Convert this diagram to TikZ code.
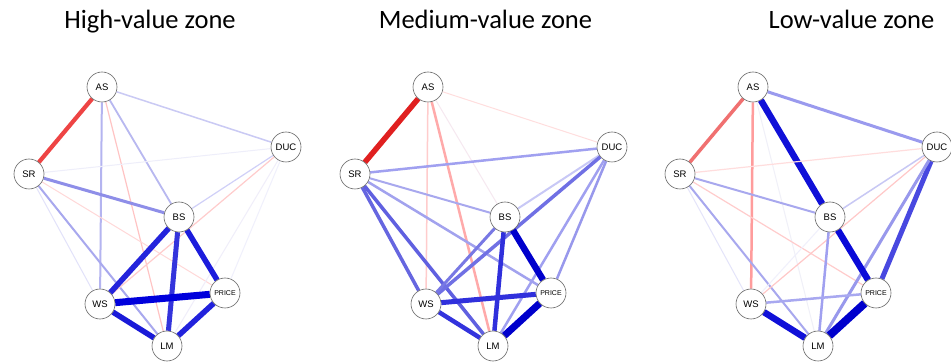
\documentclass[tikz,border=0pt]{standalone}
\usepackage{fontspec}
\setmainfont{Carlito}
\newfontfamily\nodefont{Liberation Sans}
\usetikzlibrary{backgrounds}
\tikzset{
  var/.style={circle, draw=black!60, line width=0.6pt, fill=white,
    minimum size=30pt, inner sep=0pt, font=\nodefont\fontsize{9.5}{10}\selectfont},
  smallvar/.style={var, font=\nodefont\fontsize{7}{8}\selectfont},
  title/.style={anchor=base, font=\fontsize{26.5}{30}\selectfont},
}
% one weighted connector: from, to, width (pt), colour (hex)
\newcommand\wlink[4]{\definecolor{linkcol}{HTML}{#4}\draw[line width=#3pt, draw=linkcol] (#1) -- (#2);}
\newcommand\zonenodes[2]{%
  % #1 suffix, #2 x offset
  \node[var]      (AS#1)    at (#2+0,87)    {AS};
  \node[var]      (DUC#1)   at (#2+184,147) {DUC};
  \node[var]      (SR#1)    at (#2-73,174)  {SR};
  \node[var]      (BS#1)    at (#2+77,217)  {BS};
  \node[smallvar] (PRICE#1) at (#2+123,293) {PRICE};
  \node[var]      (WS#1)    at (#2-2,304)   {WS};
  \node[var]      (LM#1)    at (#2+65,346)  {LM};
}
\begin{document}
\begin{tikzpicture}[x=1pt, y=-1pt]
\useasboundingbox (0,0) rectangle (951,363);

\node[title] at (150,29)   {High-value zone};
\node[title] at (485.5,29) {Medium-value zone};
\node[title] at (851.5,29) {Low-value zone};

\zonenodes{a}{102}
\zonenodes{b}{428}
\zonenodes{c}{753}

\begin{scope}[on background layer]
  \fill[white] (0,0) rectangle (951,363);
  % high-value zone
  \wlink{ASa}{SRa}{4.2}{EE4444}
  \wlink{ASa}{DUCa}{1.5}{CACAF4}
  \wlink{ASa}{WSa}{2}{B4B4F0}
  \wlink{ASa}{LMa}{1.2}{FFC4C4}
  \wlink{ASa}{BSa}{1.8}{B8B8F0}
  \wlink{SRa}{DUCa}{1}{EEEEFA}
  \wlink{SRa}{BSa}{3}{8E8EE8}
  \wlink{SRa}{LMa}{2}{A8A8EE}
  \wlink{SRa}{WSa}{1}{E2E2FA}
  \wlink{SRa}{PRICEa}{1}{FFD8D8}
  \wlink{DUCa}{BSa}{1.2}{D0D0F8}
  \wlink{DUCa}{WSa}{1.2}{FFCCCC}
  \wlink{DUCa}{PRICEa}{1}{F0F0FC}
  \wlink{DUCa}{LMa}{1}{F0EEFA}
  \wlink{BSa}{WSa}{5.5}{2424DC}
  \wlink{BSa}{LMa}{5}{3434DC}
  \wlink{BSa}{PRICEa}{5.5}{1C1CDC}
  \wlink{WSa}{PRICEa}{7}{0000DC}
  \wlink{WSa}{LMa}{5.5}{1A1AD8}
  \wlink{PRICEa}{LMa}{5.5}{2222DC}
  % medium-value zone
  \wlink{ASb}{SRb}{5.5}{E02020}
  \wlink{ASb}{DUCb}{1}{FFDEDE}
  \wlink{ASb}{WSb}{1.5}{FFCCCC}
  \wlink{ASb}{LMb}{2.5}{FFAAAA}
  \wlink{ASb}{BSb}{1}{F6E8F0}
  \wlink{SRb}{DUCb}{2.5}{A0A0F0}
  \wlink{SRb}{BSb}{2}{A8A8EE}
  \wlink{SRb}{PRICEb}{2.5}{A2A2EE}
  \wlink{SRb}{WSb}{3.5}{6666E0}
  \wlink{SRb}{LMb}{3.5}{6060E0}
  \wlink{DUCb}{BSb}{2}{C8C8F6}
  \wlink{DUCb}{WSb}{3.5}{7070E4}
  \wlink{DUCb}{PRICEb}{2.5}{9898EC}
  \wlink{DUCb}{LMb}{2.5}{A0A0F0}
  \wlink{BSb}{WSb}{3}{7878E4}
  \wlink{BSb}{LMb}{4.5}{3030DC}
  \wlink{BSb}{PRICEb}{6.5}{0000CC}
  \wlink{WSb}{PRICEb}{5}{3030DC}
  \wlink{WSb}{LMb}{4.5}{3333DD}
  \wlink{PRICEb}{LMb}{7}{0000CC}
  % low-value zone
  \wlink{ASc}{SRc}{3.5}{F07070}
  \wlink{ASc}{DUCc}{3}{9A9AEE}
  \wlink{ASc}{BSc}{6.5}{1010D8}
  \wlink{ASc}{WSc}{2.5}{FF9C9C}
  \wlink{ASc}{LMc}{1}{F0F0F8}
  \wlink{SRc}{DUCc}{1.2}{FFDDDD}
  \wlink{SRc}{BSc}{2}{A8A8EE}
  \wlink{SRc}{PRICEc}{1.2}{FFCCCC}
  \wlink{SRc}{WSc}{1}{E4E4FA}
  \wlink{SRc}{LMc}{2}{A8A8EE}
  \wlink{DUCc}{BSc}{1.5}{C8C8F4}
  \wlink{DUCc}{WSc}{1.2}{FFC8C8}
  \wlink{DUCc}{PRICEc}{5}{4848E0}
  \wlink{DUCc}{LMc}{3}{9898EC}
  \wlink{BSc}{PRICEc}{6.5}{0A0AD8}
  \wlink{BSc}{LMc}{2.5}{A0A0F0}
  \wlink{BSc}{WSc}{1}{F0F0FC}
  \wlink{WSc}{PRICEc}{2.5}{A8A8F0}
  \wlink{WSc}{LMc}{6.5}{1010D8}
  \wlink{PRICEc}{LMc}{8}{0000CC}
\end{scope}
\end{tikzpicture}
\end{document}
